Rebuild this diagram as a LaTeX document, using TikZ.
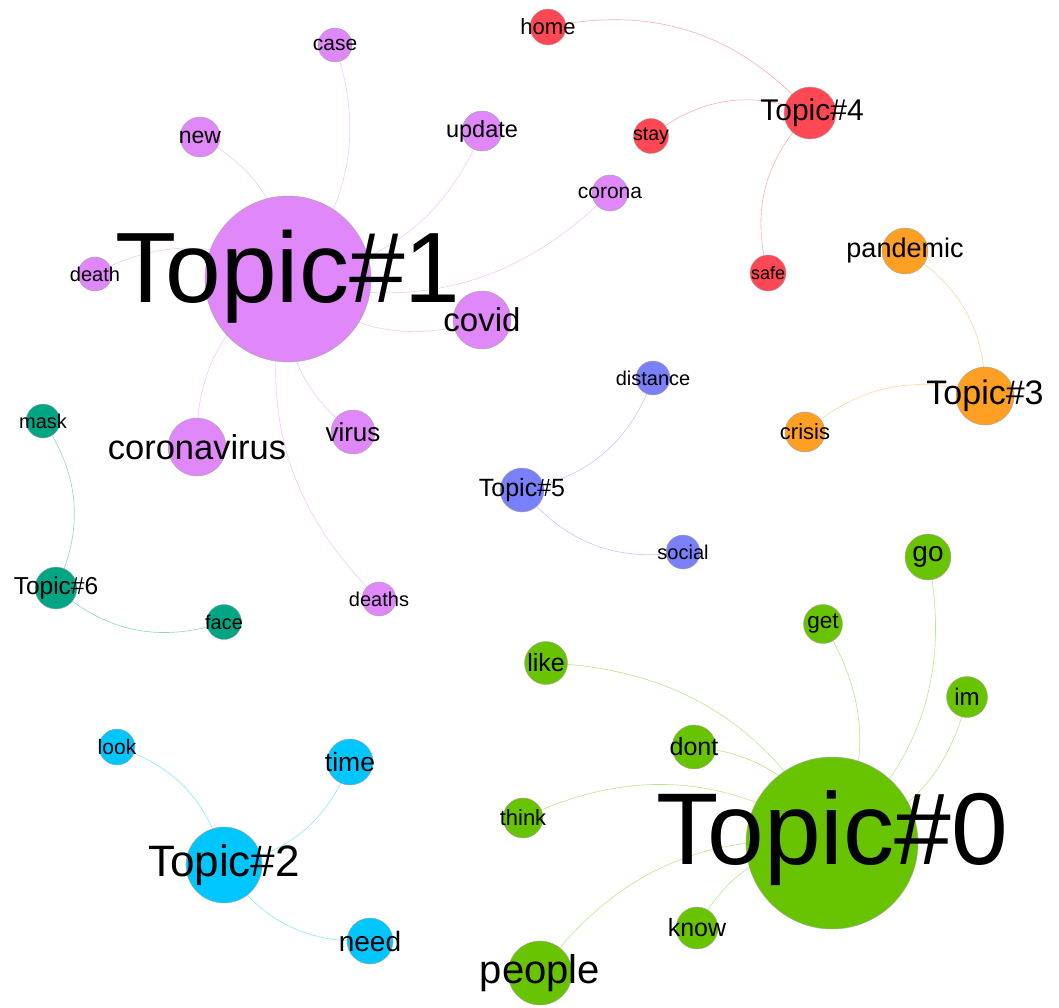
\documentclass[tikz,border=0pt]{standalone}
\usepackage{fontspec}
\setmainfont{Liberation Sans}
\pgfdeclarelayer{edges}
\pgfsetlayers{edges,main}
\newcommand\lblsz[1]{\fontsize{#1}{#1}\selectfont}
\definecolor{cGreen}{RGB}{104,196,0}
\definecolor{cPurple}{RGB}{224,136,250}
\definecolor{cRed}{RGB}{255,72,84}
\definecolor{cOrange}{RGB}{255,160,36}
\definecolor{cBlue}{RGB}{122,128,250}
\definecolor{cCyan}{RGB}{0,198,255}
\definecolor{cTeal}{RGB}{0,166,132}
\tikzset{
  word/.style={circle, draw=black!35, line width=0.4pt, inner sep=0pt, minimum size=#1},
  lbl/.style={inner sep=0pt, text=black},
  link/.style={line width=0.6pt, draw=#1!45!white},
}
\begin{document}
\begin{tikzpicture}[x=1pt,y=1pt]
\useasboundingbox (0,0) rectangle (1059,-1007);

% ---- word circles ----
% Topic#1 group
\node[word=166pt, fill=cPurple] (t1) at (288,-279) {};
\node[word=34pt, fill=cPurple] (case) at (335,-45) {};
\node[word=40pt, fill=cPurple] (new) at (200,-137) {};
\node[word=40pt, fill=cPurple] (update) at (482,-131) {};
\node[word=34pt, fill=cPurple] (death) at (95,-274) {};
\node[word=58pt, fill=cPurple] (covid) at (482,-320) {};
\node[word=58pt, fill=cPurple] (coronavirus) at (197,-447) {};
\node[word=44pt, fill=cPurple] (virus) at (353,-432) {};
\node[word=36pt, fill=cPurple] (corona) at (610,-193) {};
\node[word=34pt, fill=cPurple] (deaths) at (379,-599) {};
% Topic#6 group
\node[word=42pt, fill=cTeal] (t6) at (56,-588) {};
\node[word=34pt, fill=cTeal] (mask) at (43,-421) {};
\node[word=35pt, fill=cTeal] (face) at (224,-622) {};
% Topic#4 group
\node[word=52pt, fill=cRed] (t4) at (810,-113) {};
\node[word=36pt, fill=cRed] (home) at (548,-27) {};
\node[word=35pt, fill=cRed] (stay) at (651,-136) {};
\node[word=36pt, fill=cRed] (safe) at (768,-273) {};
% Topic#3 group
\node[word=58pt, fill=cOrange] (t3) at (985,-396) {};
\node[word=46pt, fill=cOrange] (pandemic) at (905,-251) {};
\node[word=40pt, fill=cOrange] (crisis) at (805,-432) {};
% Topic#5 group
\node[word=44pt, fill=cBlue] (t5) at (522,-490) {};
\node[word=34pt, fill=cBlue] (distance) at (653,-378) {};
\node[word=34pt, fill=cBlue] (social) at (683,-552) {};
% Topic#2 group
\node[word=76pt, fill=cCyan] (t2) at (224,-865) {};
\node[word=36pt, fill=cCyan] (look) at (117,-747) {};
\node[word=46pt, fill=cCyan] (time) at (350,-762) {};
\node[word=46pt, fill=cCyan] (need) at (370,-941) {};
% Topic#0 group
\node[word=172pt, fill=cGreen] (t0) at (832,-843) {};
\node[word=46pt, fill=cGreen] (go) at (928,-557) {};
\node[word=39pt, fill=cGreen] (get) at (823,-624) {};
\node[word=43pt, fill=cGreen] (like) at (546,-663) {};
\node[word=41pt, fill=cGreen] (im) at (967,-697) {};
\node[word=44pt, fill=cGreen] (dont) at (694,-747) {};
\node[word=40pt, fill=cGreen] (think) at (523,-818) {};
\node[word=42pt, fill=cGreen] (know) at (697,-928) {};
\node[word=64pt, fill=cGreen] (people) at (540,-973) {};

% ---- links, behind the circles ----
\begin{pgfonlayer}{edges}
\foreach \w in {case,new,update,death,covid,coronavirus,virus,corona,deaths}
  \draw[link=cPurple] (\w.center) to[bend left=30] (t1.center);
\foreach \w in {mask,face}
  \draw[link=cTeal] (\w.center) to[bend left=30] (t6.center);
\foreach \w in {home,stay,safe}
  \draw[link=cRed] (\w.center) to[bend left=30] (t4.center);
\foreach \w in {pandemic,crisis}
  \draw[link=cOrange] (\w.center) to[bend left=30] (t3.center);
\foreach \w in {distance,social}
  \draw[link=cBlue] (\w.center) to[bend left=30] (t5.center);
\foreach \w in {look,time,need}
  \draw[link=cCyan] (\w.center) to[bend left=30] (t2.center);
\foreach \w in {go,get,like,im,dont,think,know,people}
  \draw[link=cGreen] (\w.center) to[bend left=30] (t0.center);
\end{pgfonlayer}

% ---- labels on top ----
\node[lbl, font=\lblsz{100}] (l-t1) at ([yshift=2pt]t1) {Topic\#1};
\node[lbl, font=\lblsz{21}] (l-case) at (case) {case};
\node[lbl, font=\lblsz{23}] (l-new) at (new) {new};
\node[lbl, font=\lblsz{23.5}] (l-update) at (update) {update};
\node[lbl, font=\lblsz{20}] (l-death) at (death) {death};
\node[lbl, font=\lblsz{33}] (l-covid) at (covid) {covid};
\node[lbl, font=\lblsz{34.5}] (l-coronavirus) at (coronavirus) {coronavirus};
\node[lbl, font=\lblsz{26}] (l-virus) at (virus) {virus};
\node[lbl, font=\lblsz{21}] (l-corona) at (corona) {corona};
\node[lbl, font=\lblsz{20}] (l-deaths) at (deaths) {deaths};
\node[lbl, font=\lblsz{24.5}] (l-t6) at (t6) {Topic\#6};
\node[lbl, font=\lblsz{20}] (l-mask) at (mask) {mask};
\node[lbl, font=\lblsz{20}] (l-face) at (face) {face};
\node[lbl, font=\lblsz{30}] (l-t4) at ([xshift=2pt]t4) {Topic\#4};
\node[lbl, font=\lblsz{22}] (l-home) at (home) {home};
\node[lbl, font=\lblsz{19.6}] (l-stay) at (stay) {stay};
\node[lbl, font=\lblsz{18}] (l-safe) at (safe) {safe};
\node[lbl, font=\lblsz{34}] (l-t3) at (t3) {Topic\#3};
\node[lbl, font=\lblsz{27}] (l-pandemic) at (pandemic) {pandemic};
\node[lbl, font=\lblsz{22}] (l-crisis) at (crisis) {crisis};
\node[lbl, font=\lblsz{25}] (l-t5) at (t5) {Topic\#5};
\node[lbl, font=\lblsz{20}] (l-distance) at (distance) {distance};
\node[lbl, font=\lblsz{20}] (l-social) at (social) {social};
\node[lbl, font=\lblsz{44}] (l-t2) at (t2) {Topic\#2};
\node[lbl, font=\lblsz{21}] (l-look) at (look) {look};
\node[lbl, font=\lblsz{26.5}] (l-time) at (time) {time};
\node[lbl, font=\lblsz{28}] (l-need) at (need) {need};
\node[lbl, font=\lblsz{102}] (l-t0) at ([yshift=5pt]t0) {Topic\#0};
\node[lbl, font=\lblsz{28}] (l-go) at (go) {go};
\node[lbl, font=\lblsz{22.6}] (l-get) at (get) {get};
\node[lbl, font=\lblsz{25}] (l-like) at (like) {like};
\node[lbl, font=\lblsz{24}] (l-im) at (im) {im};
\node[lbl, font=\lblsz{25}] (l-dont) at (dont) {dont};
\node[lbl, font=\lblsz{22}] (l-think) at (think) {think};
\node[lbl, font=\lblsz{25}] (l-know) at (know) {know};
\node[lbl, font=\lblsz{40}] (l-people) at (people) {people};
\end{tikzpicture}
\end{document}
